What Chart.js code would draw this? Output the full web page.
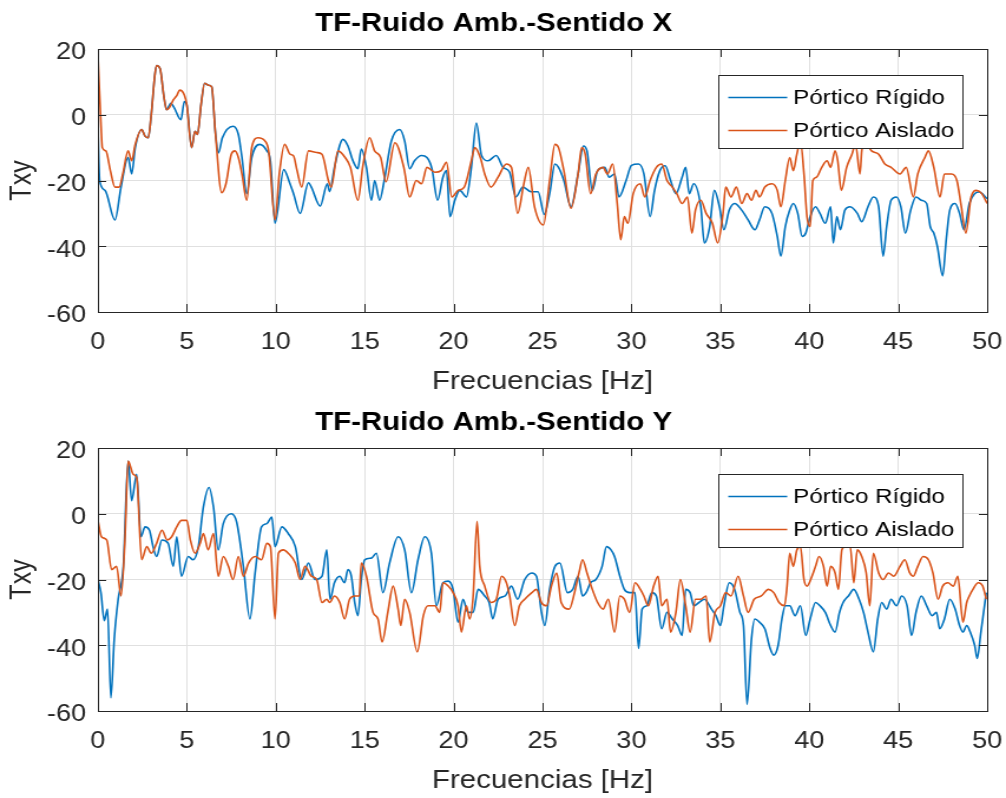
<!DOCTYPE html>
<html>
<head>
<meta charset="utf-8">
<script src="https://cdn.jsdelivr.net/npm/chart.js@4.4.1/dist/chart.umd.min.js"></script>
<style>
  html, body { margin: 0; padding: 0; background: #fff; }
  canvas { display: block; }
</style>
</head>
<body>
<!-- drawn at 853px wide and stretched to 1006px, like the stretched figure in the picture -->
<canvas id="chartX" width="853" height="399" style="width:1006px;height:399px"></canvas>
<canvas id="chartY" width="853" height="399" style="width:1006px;height:399px"></canvas>
<script>
// Sentido X - Pórtico Rígido
const fRigX = [0,0.1,0.4,0.96,1.3,1.7,1.9,2.1,2.46,2.65,
  2.83,3.0,3.2,3.3,3.5,3.7,3.86,4.1,4.3,4.67,
  4.86,5.0,5.27,5.46,5.6,5.8,6.0,6.2,6.4,6.6,
  6.78,7.0,7.6,7.9,8.1,8.37,8.65,9.1,9.5,9.7,
  9.96,10.45,10.8,11.0,11.37,11.84,12.0,12.5,12.9,13.03,
  13.3,13.78,14.06,14.34,14.62,14.81,15.1,15.38,15.56,15.84,
  16.1,16.5,16.97,17.25,17.53,17.8,18.2,18.5,18.78,19.1,
  19.4,19.6,19.8,20.07,20.35,20.72,21.0,21.28,21.57,21.94,
  22.4,22.78,23.15,23.5,23.9,24.35,24.75,25.1,25.4,25.7,
  25.9,26.2,26.6,27.0,27.3,27.5,27.8,28.1,28.5,28.75,
  29.05,29.3,29.7,30.0,30.4,30.7,31.05,31.3,31.6,31.9,
  32.2,32.5,32.85,33.05,33.25,33.5,33.9,34.1,34.4,34.66,
  34.95,35.2,35.5,35.8,36.2,36.56,36.94,37.2,37.5,37.9,
  38.2,38.4,38.65,38.9,39.1,39.35,39.6,39.8,40.05,40.35,
  40.6,40.9,41.2,41.35,41.55,41.75,42.0,42.3,42.7,42.95,
  43.3,43.6,43.9,44.15,44.35,44.6,44.9,45.15,45.4,45.7,
  46.0,46.3,46.6,46.8,47.0,47.2,47.5,47.7,47.9,48.2,
  48.45,48.7,49.0,49.3,49.55,50];
const vRigX = [-4,-20,-23,-32,-22,-13,-18,-10,-4.5,-6.5,
  -7,0,12,15,14,6,1.5,3.5,2,-1.5,
  4,3,-10,-5,-6,3,9.6,9,8.5,-5,
  -11.6,-7,-3.5,-6,-13,-24,-13,-9,-11,-14,
  -33,-16.7,-21,-24,-30,-20.7,-22,-27.8,-21,-23.4,
  -16,-7.5,-9.5,-14,-16.4,-10.4,-16,-26,-20,-26,
  -20,-8,-4.5,-8,-16.4,-14,-12.4,-13,-16.4,-26,
  -19,-17,-31,-26,-23,-25,-16,-2.5,-12.4,-14,
  -12.4,-16,-17.5,-25,-22,-23.4,-23.4,-30.3,-24,-15,
  -16,-20,-28,-18,-9.5,-11,-23,-17,-16,-19,
  -18,-25,-20,-15.4,-15,-18,-31,-23,-17,-15.5,
  -20,-24,-19,-16,-24,-21,-28,-39,-34,-23,
  -28,-35,-29,-27,-29,-32,-35,-32,-28,-30,
  -37,-43,-34,-29,-27,-30,-37,-36,-31,-28,
  -30,-33,-28,-39,-31,-35,-29,-28,-30,-32.5,
  -28,-25,-28,-43,-34,-26,-25,-28,-36,-29,
  -25,-26,-27,-34,-36,-40,-49,-38,-29,-27,
  -30,-35,-27,-24,-23.5,-25.5];

// Sentido X - Pórtico Aislado
const fAisX = [0,0.15,0.25,0.45,0.7,0.96,1.2,1.4,1.7,1.9,
  2.1,2.46,2.65,2.83,3.0,3.2,3.3,3.5,3.7,3.86,
  4.0,4.24,4.45,4.6,4.86,5.0,5.27,5.46,5.6,5.8,
  6.0,6.2,6.4,6.6,6.96,7.2,7.5,7.7,7.9,8.1,
  8.37,8.65,9.0,9.4,9.6,9.96,10.2,10.5,10.8,11.0,
  11.2,11.46,11.84,12.3,12.6,12.96,13.12,13.5,13.9,14.2,
  14.62,14.9,15.28,15.56,15.9,16.2,16.7,17.2,17.53,17.9,
  18.2,18.5,18.95,19.3,19.6,19.9,20.25,20.6,21.0,21.2,
  21.5,21.75,22.1,22.5,22.97,23.25,23.6,23.95,24.2,24.55,
  25.05,25.4,25.7,25.9,26.2,26.6,27.0,27.2,27.4,27.7,
  28.0,28.4,28.65,28.95,29.2,29.4,29.6,29.8,30.1,30.5,
  30.75,31.05,31.4,31.7,32.0,32.3,32.55,32.85,33.15,33.4,
  33.6,33.9,34.2,34.55,34.85,35.15,35.3,35.6,35.9,36.2,
  36.5,36.75,37.0,37.2,37.5,37.9,38.2,38.4,38.65,38.9,
  39.1,39.3,39.5,39.7,39.87,40.05,40.2,40.4,40.7,41.0,
  41.2,41.45,41.6,41.8,42.1,42.4,42.6,42.85,42.95,43.1,
  43.5,43.9,44.25,44.6,45.1,45.45,45.85,46.1,46.5,46.7,
  47.0,47.35,47.6,48.0,48.3,48.55,48.8,49.1,49.4,49.7,
  50];
const vAisX = [18,0,-10,-11,-17,-22,-22,-18,-11,-14,
  -9,-4.5,-6.5,-7,0,12,15,14,6,1.5,
  2,4.5,6,7.5,6,3,-10,-5,-6,3,
  9.6,9,8.5,-5,-23.7,-21,-12,-11,-13,-18,
  -26,-10,-7,-8,-11,-32,-18,-9,-12,-12.5,
  -17,-22,-11,-11.5,-12,-20,-22,-11,-13,-16,
  -26,-15.5,-7,-11,-13,-20.4,-8.5,-16,-25,-20,
  -21,-16,-17.5,-17,-14.5,-25,-23,-22,-14,-10,
  -13,-18,-22,-19,-15,-16,-30,-21,-16,-28,
  -33.5,-20,-9,-10,-17,-28.4,-18,-10,-12,-24,
  -18,-16,-18,-15,-27,-38,-31,-33,-24,-21,
  -25,-20,-16,-15,-20,-22,-24,-27,-25,-36,
  -29,-26,-30,-33,-39,-30,-22,-25,-22,-27,
  -24,-26,-23,-25,-22,-21,-23,-28,-20,-13,
  -17,-12,-8,-18,-31,-34,-20,-19,-16,-14,
  -16,-11,-14,-23,-16,-12,-9,-18,-11,-8,
  -11,-12,-15,-16,-18,-16,-25,-18,-13,-11,
  -16,-25,-18,-18,-20,-28,-36,-25,-23,-24,
  -27];

// Sentido Y - Pórtico Rígido
const fRigY = [0,0.17,0.36,0.54,0.73,0.92,1.14,1.43,1.7,1.9,
  2.18,2.42,2.65,2.9,3.1,3.3,3.6,3.95,4.24,4.43,
  4.7,5.08,5.35,5.65,5.93,6.25,6.5,6.77,7.05,7.5,
  7.8,8.18,8.55,8.84,9.2,9.5,9.78,9.96,10.34,10.7,
  11.1,11.46,11.84,12.2,12.6,12.87,13.05,13.3,13.6,13.87,
  14.06,14.25,14.44,14.62,14.81,15.0,15.38,15.66,16.03,16.4,
  16.88,17.25,17.63,18.0,18.38,18.75,19.03,19.4,19.7,19.97,
  20.25,20.53,20.8,21.1,21.38,21.75,22.0,22.2,22.5,22.9,
  23.25,23.6,24.0,24.4,24.66,24.94,25.13,25.4,25.7,25.98,
  26.4,26.7,27.0,27.25,27.45,27.7,28.0,28.35,28.6,28.85,
  29.05,29.35,29.6,29.9,30.2,30.4,30.6,30.85,31.15,31.4,
  31.7,32.0,32.3,32.6,32.85,33.05,33.3,33.5,33.8,34.1,
  34.5,34.75,35.0,35.2,35.5,35.8,36.1,36.3,36.5,36.75,
  36.94,37.2,37.5,37.8,38.0,38.25,38.46,38.65,38.9,39.2,
  39.5,39.8,40.05,40.35,40.6,40.9,41.2,41.45,41.7,41.9,
  42.2,42.5,42.8,43.05,43.3,43.6,43.85,44.07,44.35,44.6,
  44.9,45.2,45.5,45.75,46.0,46.3,46.6,46.9,47.15,47.33,
  47.6,47.9,48.2,48.45,48.64,48.85,49.05,49.3,49.44,49.65,
  49.95];
const vRigY = [-20,-24,-32.5,-29,-56,-38,-26,-16,16,4,
  12,-7,-4,-5,-10,-13,-8,-9,-16,-7,
  -19,-13,-14,-10,2,8,2,-11,-3,0,
  -2.5,-16,-32,-18,-4,-3,-1,-10,-4,-6,
  -10,-20,-15,-20,-19,-11,-26,-21,-19,-21,
  -17,-19,-27,-31,-20,-14,-13.5,-12,-24,-15,
  -7,-11,-24,-14,-7,-12,-28,-21,-20.5,-23,
  -33,-26,-30,-30,-23,-25,-27,-32,-26,-25,
  -22,-26,-20,-18,-19,-30,-34,-23,-16,-15,
  -24,-23,-19,-25,-24,-21,-20,-16,-10,-11,
  -13,-19,-23,-24,-24,-41,-29,-28,-24,-25,
  -35,-30,-32,-34,-37,-23,-24,-28,-27,-26,
  -29,-31,-34,-28,-21,-23,-30,-34,-58,-38,
  -32,-33,-35,-41,-43,-40,-32,-28,-28,-31,
  -28,-37,-32,-27,-28,-30,-34,-36,-30,-27,
  -25,-23,-26,-30,-36,-42,-32,-27,-29,-26,
  -28,-25,-28,-37,-30,-25,-28,-31,-30,-35,
  -32,-26,-29,-34,-36,-34,-36,-40,-44,-36,
  -24];

// Sentido Y - Pórtico Aislado
const fAisY = [0,0.2,0.5,0.77,1.05,1.3,1.52,1.7,1.99,2.18,
  2.46,2.75,3.0,3.3,3.6,3.9,4.15,4.43,4.7,5.0,
  5.2,5.46,5.75,5.93,6.2,6.5,6.77,7.05,7.34,7.6,
  7.9,8.18,8.47,8.84,9.2,9.5,9.7,9.96,10.15,10.43,
  10.7,11.1,11.37,11.65,12.0,12.3,12.6,12.87,13.03,13.3,
  13.6,13.87,14.15,14.44,14.7,14.81,15.1,15.47,15.75,15.98,
  16.3,16.6,16.88,17.03,17.25,17.53,17.96,18.3,18.56,18.95,
  19.22,19.4,19.7,19.97,20.25,20.44,20.72,20.9,21.1,21.32,
  21.47,21.75,22.1,22.4,22.7,22.97,23.15,23.44,23.7,24.0,
  24.4,24.66,24.94,25.23,25.5,25.8,26.05,26.5,26.8,27.05,
  27.25,27.5,27.8,28.1,28.4,28.7,29.05,29.35,29.6,29.9,
  30.2,30.5,30.7,30.95,31.25,31.5,31.7,32.0,32.2,32.5,
  32.75,33.05,33.3,33.6,33.9,34.2,34.4,34.7,35.0,35.3,
  35.6,36.0,36.3,36.56,36.9,37.3,37.7,38.0,38.3,38.6,
  38.75,38.9,39.1,39.3,39.5,39.7,39.87,40.15,40.35,40.55,
  40.8,41.0,41.2,41.45,41.64,41.83,42.0,42.3,42.5,42.7,
  42.95,43.2,43.4,43.6,43.9,44.16,44.45,44.75,45.1,45.37,
  45.65,45.85,46.1,46.4,46.7,46.95,47.24,47.5,47.8,48.1,
  48.35,48.64,48.85,49.0,49.2,49.5,49.75,49.95];
const vAisY = [-2,-7,-8,-17,-16,-25,-8,16,12,11,
  -14,-10,-12,-9,-5,-8,-7,-4,-2,-2,
  -8,-12,-9,-6,-11,-6,-19,-13,-16,-20,
  -13,-19,-15,-13,-14,-9,-10,-32,-12,-11,
  -12,-15,-20,-16,-19,-20,-27,-26,-27,-25,
  -27,-32,-26,-25,-25,-15,-19,-30,-32,-39,
  -30,-22,-29,-34,-26,-30,-42,-31,-28,-28,
  -30,-21,-22,-24,-28,-36,-28,-32,-25,-2.3,
  -16,-22,-27,-26,-19,-21,-25,-34,-28,-26,
  -24,-23,-27,-28,-22,-18,-27,-29,-24,-18,
  -14,-18,-23,-27,-29,-26,-36,-25,-26,-30,
  -21,-23,-25,-28,-22,-19,-28,-26,-36,-30,
  -20,-28,-36,-26,-26,-25,-39,-30,-28,-24,
  -25,-19,-25,-30,-26,-25,-23,-24,-27,-28,
  -22,-12,-16,-11,-10,-20,-22,-19,-16,-13,
  -16,-22,-16,-18,-23,-11,-10,-10,-21,-11,
  -13,-18,-28,-12,-18,-20,-18,-19,-16,-14,
  -18,-19,-16,-13,-14,-18,-26,-22,-21,-22,
  -19,-33,-27,-25,-23,-21,-22,-26];

const seriesNames = ['Pórtico Rígido', 'Pórtico Aislado'];
const seriesColors = ['#0072BD', '#D95319'];
const xTickStep = 5;
const yTickStep = 20;

const FONT = "'Liberation Sans', Arial, Helvetica, sans-serif";

function toPoints(f, v) {
    return f.map((x, i) => ({ x: x, y: v[i] }));
}

// box, inner tick marks and the legend, drawn over the lines like MATLAB does
const axesBox = {
    id: 'axesBox',
    afterDatasetsDraw(chart) {
        const ctx = chart.ctx;
        const { left, right, top, bottom } = chart.chartArea;
        const xs = chart.scales.x, ys = chart.scales.y;
        ctx.save();
        ctx.strokeStyle = '#262626';
        ctx.lineWidth = 1;
        ctx.beginPath();
        xs.ticks.forEach(t => {
            const px = Math.round(xs.getPixelForValue(t.value)) + 0.5;
            ctx.moveTo(px, bottom); ctx.lineTo(px, bottom - 8);
            ctx.moveTo(px, top); ctx.lineTo(px, top + 8);
        });
        ys.ticks.forEach(t => {
            const py = Math.round(ys.getPixelForValue(t.value)) + 0.5;
            ctx.moveTo(left, py); ctx.lineTo(left + 7, py);
            ctx.moveTo(right, py); ctx.lineTo(right - 7, py);
        });
        ctx.stroke();
        ctx.strokeRect(Math.round(left) + 0.5, Math.round(top) + 0.5,
            Math.round(right - left), Math.round(bottom - top));

        // legend
        const bw = 207, bh = 73;
        const bx = Math.round(right - 21 - bw) + 0.5;
        const by = Math.round(top + 26) + 0.5;
        ctx.fillStyle = '#fff';
        ctx.fillRect(bx, by, bw, bh);
        ctx.strokeStyle = '#262626';
        ctx.strokeRect(bx, by, bw, bh);
        ctx.font = '20.5px ' + FONT;
        ctx.textBaseline = 'middle';
        ctx.textAlign = 'left';
        chart.data.datasets.forEach((ds, i) => {
            const ry = by + 22 + i * 33;
            ctx.strokeStyle = ds.borderColor;
            ctx.lineWidth = 1.5;
            ctx.beginPath();
            ctx.moveTo(bx + 8, ry); ctx.lineTo(bx + 58, ry);
            ctx.stroke();
            ctx.fillStyle = '#000';
            ctx.fillText(ds.label, bx + 63, ry + 1);
        });
        ctx.restore();
    }
};

function makeChart(id, title, fR, vR, fA, vA) {
    return new Chart(document.getElementById(id), {
        type: 'line',
        data: {
            datasets: [{
                label: seriesNames[0],
                data: toPoints(fR, vR),
                borderColor: seriesColors[0],
                borderWidth: 1.6,
                order: 1
            }, {
                label: seriesNames[1],
                data: toPoints(fA, vA),
                borderColor: seriesColors[1],
                borderWidth: 1.6,
                order: 0
            }]
        },
        options: {
            responsive: false,
            devicePixelRatio: 1,
            animation: false,
            layout: { padding: { left: 0, right: 16, top: 0, bottom: 0 } },
            elements: {
                point: { radius: 0 },
                line: { cubicInterpolationMode: 'monotone', fill: false }
            },
            plugins: {
                legend: { display: false },
                tooltip: { enabled: false },
                title: {
                    display: true,
                    text: title,
                    color: '#000',
                    font: { family: FONT, size: 25, weight: 'bold' },
                    padding: { top: 9, bottom: 10 }
                }
            },
            scales: {
                x: {
                    type: 'linear',
                    min: 0, max: 50,
                    afterFit(scale) {
                        scale.height = 87;
                        scale.paddingLeft = 0;
                        scale.paddingRight = 0;
                    },
                    ticks: {
                        stepSize: xTickStep,
                        color: '#262626',
                        padding: 17,
                        maxRotation: 0,
                        font: { family: FONT, size: 23 }
                    },
                    grid: { color: '#e0e0e0', drawTicks: false },
                    border: { display: false },
                    title: {
                        display: true,
                        text: 'Frecuencias [Hz]',
                        color: '#262626',
                        font: { family: FONT, size: 25 },
                        padding: 2
                    }
                },
                y: {
                    min: -60, max: 20,
                    afterFit(scale) {
                        scale.width = 83;
                        scale.paddingTop = 0;
                        scale.paddingBottom = 0;
                    },
                    ticks: {
                        stepSize: yTickStep,
                        color: '#262626',
                        padding: 10,
                        labelOffset: 4,
                        font: { family: FONT, size: 23 }
                    },
                    grid: { color: '#e0e0e0', drawTicks: false },
                    border: { display: false },
                    title: {
                        display: true,
                        text: 'Txy',
                        color: '#262626',
                        font: { family: FONT, size: 25 },
                        padding: 4
                    }
                }
            }
        },
        plugins: [axesBox]
    });
}

makeChart('chartX', 'TF-Ruido Amb.-Sentido X', fRigX, vRigX, fAisX, vAisX);
makeChart('chartY', 'TF-Ruido Amb.-Sentido Y', fRigY, vRigY, fAisY, vAisY);
</script>
</body>
</html>
